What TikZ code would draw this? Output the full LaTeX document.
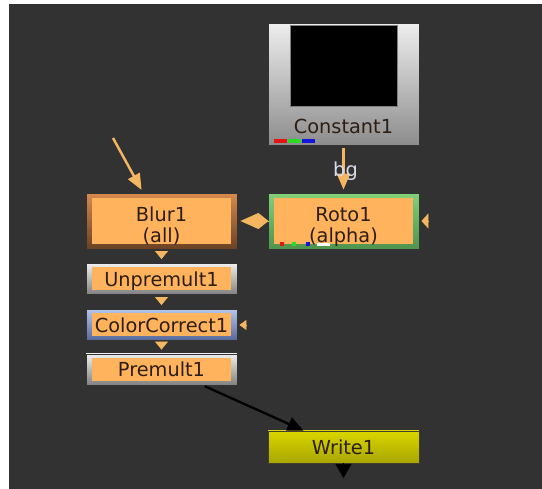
\documentclass[tikz,border=0pt]{standalone}
\usepackage{fontspec}
\setmainfont{DejaVu Sans}
\usepackage{xcolor}
\usepackage{tikz}
\usetikzlibrary{arrows.meta}
\definecolor{graphbg}{RGB}{50,50,50}
\definecolor{nukeorange}{RGB}{255,179,92}
\definecolor{pipeorange}{RGB}{245,182,98}
\definecolor{nuketext}{RGB}{45,30,20}
\definecolor{bgtext}{RGB}{215,218,232}
\definecolor{blurtop}{RGB}{214,138,78}
\definecolor{blurbot}{RGB}{105,65,35}
\definecolor{rototop}{RGB}{132,208,120}
\definecolor{rotobot}{RGB}{78,148,78}
\definecolor{greytop}{RGB}{238,238,238}
\definecolor{greybot}{RGB}{128,128,128}
\definecolor{cctop}{RGB}{178,196,236}
\definecolor{ccbot}{RGB}{84,104,154}
\definecolor{writetop}{RGB}{218,214,0}
\definecolor{writebot}{RGB}{168,166,0}
\definecolor{chanred}{RGB}{230,20,20}
\definecolor{changreen}{RGB}{40,220,40}
\definecolor{chanblue}{RGB}{20,20,220}

\begin{document}
\begin{tikzpicture}[x=0.02cm, y=-0.02cm,
  nukenode/.style={draw=black!80, line width=0.5pt, minimum width=3.02cm, minimum height=0.62cm,
    inner sep=0pt, font=\fontsize{11}{12.5}\selectfont, text=nuketext, align=center,
    text height=0.3cm, text depth=0cm},
  twoline/.style={minimum height=1.12cm, text height=0.94cm, text depth=0.06cm},
  panel/.style={path picture={\fill[nukeorange]
      ([shift={(0.12cm,-#1)}]path picture bounding box.north west) rectangle
      ([shift={(-0.12cm,#1)}]path picture bounding box.south east);}},
  pipe/.style={pipeorange, line width=1.4pt, -{Triangle[length=0.32cm,width=0.26cm]}},
  stacktip/.style={pipeorange, line width=0.4pt, -{Triangle[length=0.16cm,width=0.26cm]},
    shorten <=0.04cm, shorten >=0.08cm},
  masktip/.style={pipeorange, line width=0.4pt, -{Triangle[length=0.14cm,width=#1]}, shorten >=0.04cm}]
  \useasboundingbox (0,0) rectangle (542,489);
  \fill[white] (0,0) rectangle (542,489);
  \fill[graphbg] (9,4) rectangle (542,489);

  % source
  \node[nukenode, minimum height=2.44cm, text height=2.06cm, text depth=0.06cm,
    top color=greytop, bottom color=greybot!90] (constant) at (343.5,84) {Constant1};
  \draw[black!50, fill=black] (290,25) rectangle (397,106);
  \foreach \c [count=\i from 0] in {chanred, changreen, chanblue}
    \fill[\c] (274+14*\i,139) rectangle ++(13,4);

  % main stack
  \node[nukenode, twoline, panel=0.1cm, top color=rototop, bottom color=rotobot] (roto) at (343.5,221) {Roto1\\(alpha)};
  \foreach \c/\x in {chanred/280, changreen/292, chanblue/306}
    \fill[\c] (\x,242) rectangle ++(4,4);
  \fill[white] (317,243) rectangle (330,246);
  \node[nukenode, twoline, panel=0.1cm, top color=blurtop, bottom color=blurbot] (blur) at (161.5,221) {Blur1\\(all)};
  \node[nukenode, panel=0.08cm, top color=greytop, bottom color=greybot] (unpremult) at (161.5,279) {Unpremult1};
  \node[nukenode, panel=0.08cm, top color=cctop, bottom color=ccbot] (colorcorrect) at (161.5,325) {ColorCorrect1};
  \node[nukenode, panel=0.08cm, top color=greytop, bottom color=greybot] (premult) at (161.5,369.5) {Premult1};
  \node[nukenode, draw=black!70!olive, minimum height=0.64cm, top color=writetop, bottom color=writebot] (write) at (343.5,447) {Write1};

  % connections
  \draw[pipe, shorten <=0.06cm, shorten >=0.06cm] (constant) -- node[pos=0.55, text=bgtext, font=\fontsize{11}{12.5}\selectfont, xshift=0.04cm] {bg} (roto);
  \coordinate (blurin) at (113,138);
  \draw[pipe, shorten >=0.06cm] (blurin) -- ([xshift=-0.37cm]blur.north);
  \draw[pipeorange, line width=0.4pt, -{Kite[length=0.56cm,width=0.32cm,inset=0.2cm]}, shorten >=0.06cm] (roto) -- (blur);
  \foreach \a/\b in {blur/unpremult, unpremult/colorcorrect, colorcorrect/premult}
    \draw[stacktip] (\a) -- (\b);
  \coordinate (rotomask) at (429,221);
  \draw[masktip=0.3cm] (rotomask) -- (roto);
  \coordinate (ccmask) at (245.5,325);
  \draw[masktip=0.2cm] (ccmask) -- (colorcorrect);
  \draw[black, line width=1.3pt, -{Triangle[length=0.32cm,width=0.28cm]}, shorten <=0.04cm]
    ([xshift=0.83cm]premult.south) -- ([xshift=-0.8cm]write.north);
  \coordinate (writeout) at (343.5,478);
  \draw[black, line width=0.4pt, -{Triangle[length=0.28cm,width=0.32cm]}] (write) -- (writeout);
\end{tikzpicture}
\end{document}
